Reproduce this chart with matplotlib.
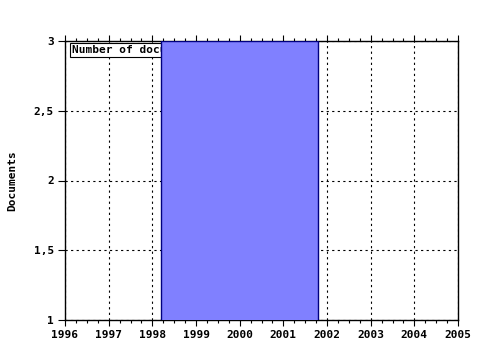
import matplotlib
matplotlib.use("Agg")
import matplotlib.pyplot as plt
from matplotlib.ticker import MultipleLocator, FuncFormatter

years = [2000]
documents = [3]
bar_width_years = [3.6]
legend_label = "Number of documents"
x_ticks = list(range(1996, 2006))
y_ticks = [1, 1.5, 2, 2.5, 3]

font = dict(family="DejaVu Sans Mono", weight="bold", size=8)

fig = plt.figure(figsize=(4.8, 3.5), dpi=100)
ax = fig.add_axes([65/480, 30/350, (458-65)/480, (320-41)/350])

ax.bar(years, documents, width=bar_width_years, bottom=0, color="#8080ff",
       edgecolor="#000080", linewidth=1.0, zorder=3)

ax.set_xlim(1996, 2005)
ax.set_ylim(1, 3)
ax.set_xticks(x_ticks)
ax.set_yticks(y_ticks)
ax.xaxis.set_minor_locator(MultipleLocator(0.25))
ax.yaxis.set_major_formatter(FuncFormatter(lambda v, p: ("%g" % v).replace(".", ",")))
ax.grid(True, which="major", color="black", linestyle=(0, (2, 3)), linewidth=0.8, zorder=0)
ax.set_axisbelow(True)

ax.tick_params(axis="x", which="major", direction="out", length=4, width=0.8,
               top=True, bottom=True, labeltop=False, pad=3)
ax.tick_params(axis="x", which="minor", direction="out", length=2.5, width=0.8,
               top=True, bottom=True)
ax.tick_params(axis="y", which="major", direction="out", length=5, width=0.8, pad=3)
for lab in ax.get_xticklabels() + ax.get_yticklabels():
    lab.set_fontfamily("DejaVu Sans Mono")
    lab.set_fontweight("bold")
    lab.set_fontsize(8)
for s in ax.spines.values():
    s.set_linewidth(1.0)

ax.set_ylabel("Documents", fontdict=font, labelpad=12)

ax.text(72/480 - 65/480 + 0.0, 0, "")
t = ax.text((72-65)/(458-65), 1 - (50-41)/(320-41), legend_label,
            transform=ax.transAxes, va="center", ha="left", zorder=1,
            bbox=dict(boxstyle="square,pad=0.15", facecolor="white",
                      edgecolor="black", linewidth=0.8),
            **font)

fig.savefig("out.png", dpi=100)
